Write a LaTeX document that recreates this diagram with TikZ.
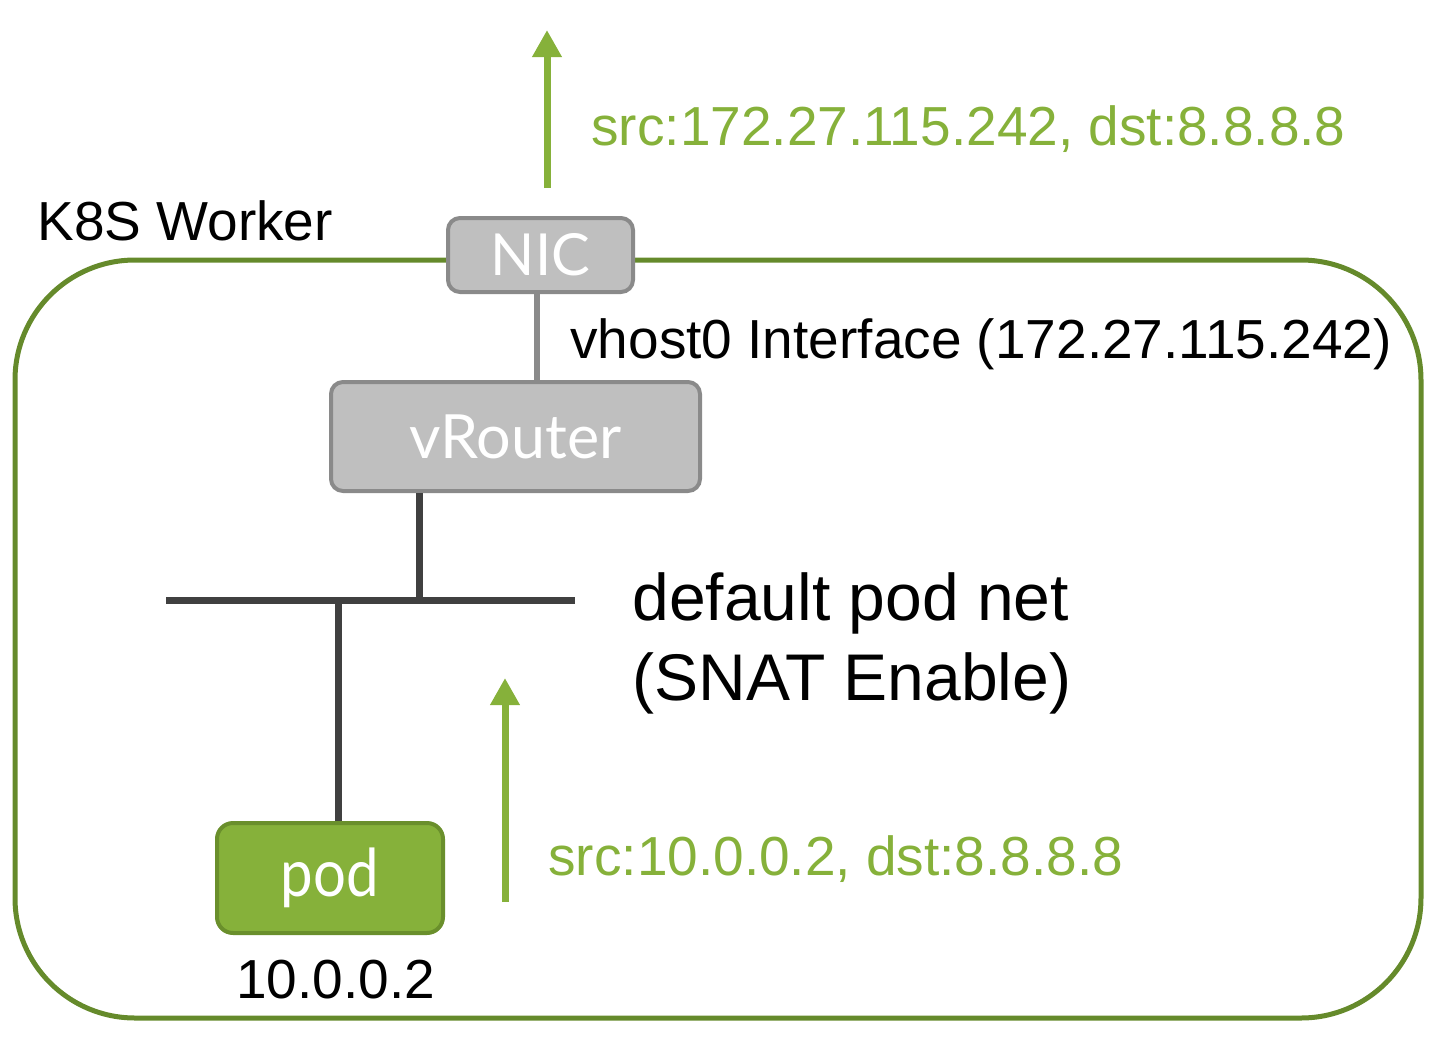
\documentclass[tikz,border=0pt]{standalone}
\usepackage{fontspec}
\setmainfont{Liberation Sans}
\newfontfamily\latofont{Lato}
\usepackage{graphicx}
\usepackage{xcolor}
\usetikzlibrary{arrows.meta}

\definecolor{flowgreen}{HTML}{86B13A}
\definecolor{podedge}{HTML}{6A8F2C}
\definecolor{framegreen}{HTML}{658A2B}
\definecolor{boxgray}{HTML}{BFBFBF}
\definecolor{edgegray}{HTML}{8A8A8A}
\definecolor{busgray}{HTML}{404040}

\tikzset{
  graybox/.style={draw=edgegray, fill=boxgray, line width=2pt, rounded corners=6pt,
    text=white, inner sep=0pt, font=\latofont\fontsize{29}{34}\selectfont},
  podbox/.style={draw=podedge, fill=flowgreen, line width=2pt, rounded corners=8pt,
    text=white, inner sep=0pt, font=\latofont\fontsize{33}{38}\selectfont},
  txt/.style={inner sep=0pt, font=\fontsize{27.5}{33}\selectfont},
  flowtxt/.style={txt, text=flowgreen},
  flow/.style={flowgreen, line width=3.5pt, -{Triangle[length=13.5pt, width=14pt]}},
  bus/.style={busgray, line width=3.5pt},
}

\begin{document}
\begin{tikzpicture}[x=0.5pt, y=-0.5pt]
  \useasboundingbox (0,0) rectangle (1448,1045);
  % worker frame
  \draw[framegreen, line width=2.5pt, rounded corners=60pt] (15,260) rectangle (1421,1018);
  \node[txt, anchor=base west] (worker) at (37,240) {K8S Worker};

  % boxes
  \node[graybox, minimum width=92.5pt, minimum height=37pt] (nic) at (540.5,255) {NIC};
  \node[graybox, minimum width=184.5pt, minimum height=54.5pt, font=\latofont\fontsize{30.5}{36}\selectfont]
    (vrouter) at (515.5,436.5) {vRouter};
  \node[podbox, minimum width=113pt, minimum height=55pt] (pod) at (330,878)
    {\raisebox{-3pt}{\scalebox{0.88}[1]{pod}}};
  \node[txt, anchor=base west] (podip) at (236,998) {10.0.0.2};

  % vhost0 link
  \coordinate (uplink) at (537,300);
  \draw[edgegray, line width=3pt] (nic.south -| uplink) -- (vrouter.north -| uplink);
  \node[txt, anchor=base west] (vhost) at (570,358) {vhost0 Interface (172.27.115.242)};

  % pod net
  \coordinate (busL) at (166,600);
  \coordinate (busR) at (575,600);
  \coordinate (vrtap) at (419,600);
  \coordinate (podtap) at (338,600);
  \draw[bus] (busL) -- (busR);
  \draw[bus] (vrouter.south -| vrtap) -- (vrtap);
  \draw[bus] (podtap) -- (podtap |- pod.north);
  \node[txt, anchor=base west, align=left, font=\fontsize{33}{40}\selectfont] (podnet) at (632,700)
    {default pod net\\(SNAT Enable)};

  % traffic
  \coordinate (outbase) at (547,188);
  \coordinate (outtip) at (547,30);
  \draw[flow] (outbase) -- (outtip);
  \node[flowtxt, anchor=base west] (snatflow) at (591,145) {src:172.27.115.242, dst:8.8.8.8};
  \coordinate (inbase) at (505,902);
  \coordinate (intip) at (505,678);
  \draw[flow] (inbase) -- (intip);
  \node[flowtxt, anchor=base west] (podflow) at (548,875) {src:10.0.0.2, dst:8.8.8.8};
\end{tikzpicture}
\end{document}
